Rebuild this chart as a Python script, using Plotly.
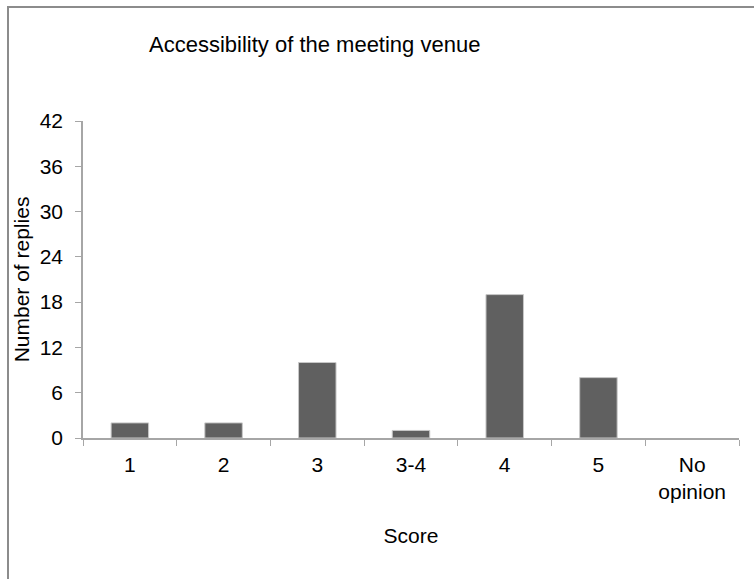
import plotly.graph_objects as go

# data
scores = ["1", "2", "3", "3-4", "4", "5", "No<br>opinion"]
replies = [2, 2, 10, 1, 19, 8, 0]
y_ticks = [0, 6, 12, 18, 24, 30, 36, 42]

FONT = "Liberation Sans, Arial, sans-serif"
AXIS_GREY = "#a6a6a6"

fig = go.Figure()
fig.add_trace(go.Bar(
    x=scores, y=replies,
    marker=dict(
        color="#606060",
        # no outline on empty bars, so "No opinion" stays blank
        line=dict(color="#c8c8c8", width=[1 if v > 0 else 0 for v in replies]),
    ),
    hoverinfo="x+y",
))

fig.update_layout(
    width=754, height=579,
    margin=dict(l=83, r=15, t=121, b=141),
    paper_bgcolor="white", plot_bgcolor="white",
    bargap=0.6,
    showlegend=False,
    font=dict(family=FONT, size=21, color="#000000"),
    annotations=[dict(
        text="Accessibility of the meeting venue",
        xref="paper", yref="paper", x=(314 - 83) / 656, y=(438 - 45) / 317,
        xanchor="center", yanchor="middle", showarrow=False,
        font=dict(family=FONT, size=22, color="#000000"),
    )],
    shapes=[dict(
        type="rect", xref="paper", yref="paper",
        x0=(8 - 83) / 656, x1=1.2, y0=-0.6, y1=(438 - 7) / 317,
        line=dict(color="#8c8c8c", width=2), fillcolor="rgba(0,0,0,0)",
        layer="below",
    )],
)

fig.update_xaxes(
    type="category", automargin=False,
    showline=True, linecolor=AXIS_GREY, linewidth=1.5,
    ticks="outside", tickson="boundaries", ticklen=6, tickcolor=AXIS_GREY,
    ticklabelstandoff=7,
    showgrid=False, zeroline=False,
    title=dict(text="Score", standoff=26, font=dict(size=21)),
)
fig.update_yaxes(
    range=[0, 42], tickvals=y_ticks, automargin=False,
    showline=True, linecolor=AXIS_GREY, linewidth=1.5,
    ticks="outside", ticklen=6, tickcolor=AXIS_GREY,
    ticklabelstandoff=8,
    showgrid=False, zeroline=False,
    title=dict(text="Number of replies", standoff=4, font=dict(size=21)),
)

# drop the browser's default body margin so the figure sits at the page corner
fig.write_html("out.html", config={"displayModeBar": False},
               post_script="document.body.style.margin = '0';")
